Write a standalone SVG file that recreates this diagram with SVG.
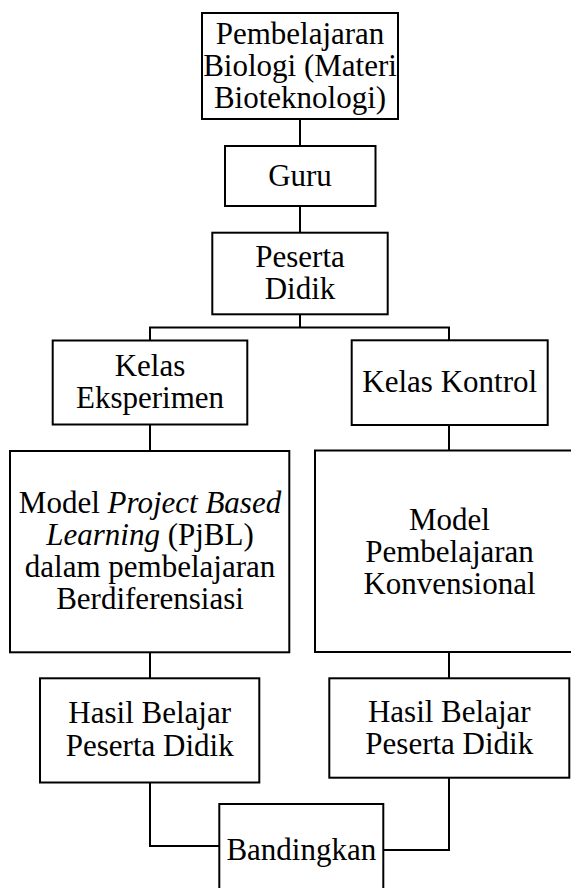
<svg xmlns="http://www.w3.org/2000/svg" width="571" height="888" viewBox="0 0 571 888">
<style>
.box{fill:#fff;stroke:#000;stroke-width:2}
.ln{fill:none;stroke:#000;stroke-width:2}
text{font-family:"Liberation Serif","Times New Roman",serif;font-size:31px;fill:#000;text-anchor:middle}
.it{font-style:italic}
</style>
<rect width="571" height="888" fill="#fff"/>
<g id="connectors">
<path class="ln" d="M300,119V146"/>
<path class="ln" d="M300,206V232.5"/>
<path class="ln" d="M300,314.5V327.5M150,340.5V327.5H449V340.5"/>
<path class="ln" d="M150,424.5V451"/>
<path class="ln" d="M449,425V450.5"/>
<path class="ln" d="M150,652V678.5"/>
<path class="ln" d="M449,652V678.5"/>
<path class="ln" d="M150,782.5V846H219.5"/>
<path class="ln" d="M449,778V850H383.5"/>
</g>
<g id="n-pembelajaran">
<rect class="box" x="202" y="13" width="196" height="106"/>
<text x="300" y="43.5">Pembelajaran</text>
<text x="300" y="75.5">Biologi (Materi</text>
<text x="300" y="107.5">Bioteknologi)</text>
</g>
<g id="n-guru">
<rect class="box" x="225" y="146" width="150.5" height="60"/>
<text x="300" y="186">Guru</text>
</g>
<g id="n-peserta">
<rect class="box" x="212.3" y="232.7" width="175.4" height="81.6"/>
<text x="300" y="267">Peserta</text>
<text x="300" y="299">Didik</text>
</g>
<g id="n-eksperimen">
<rect class="box" x="52.7" y="340.5" width="194.6" height="84"/>
<text x="150" y="376">Kelas</text>
<text x="150" y="408">Eksperimen</text>
</g>
<g id="n-kontrol">
<rect class="box" x="351.7" y="340.3" width="196" height="84.7"/>
<text x="449.7" y="392">Kelas Kontrol</text>
</g>
<g id="n-pjbl">
<rect class="box" x="10" y="451" width="279.3" height="201.3"/>
<text x="150" y="513">Model <tspan class="it">Project Based</tspan></text>
<text x="150" y="545"><tspan class="it">Learning</tspan> (PjBL)</text>
<text x="150" y="577">dalam pembelajaran</text>
<text x="150" y="609">Berdiferensiasi</text>
</g>
<g id="n-konvensional">
<rect class="box" x="315" y="450.5" width="270" height="201.5"/>
<text x="449.5" y="529.5">Model</text>
<text x="449.5" y="562">Pembelajaran</text>
<text x="449.5" y="594">Konvensional</text>
</g>
<g id="n-hasil-eksperimen">
<rect class="box" x="40" y="678.3" width="219.3" height="104.2"/>
<text x="149.7" y="723">Hasil Belajar</text>
<text x="149.7" y="755.5">Peserta Didik</text>
</g>
<g id="n-hasil-kontrol">
<rect class="box" x="329.3" y="678.3" width="240" height="99.4"/>
<text x="449.3" y="722.3">Hasil Belajar</text>
<text x="449.3" y="754.3">Peserta Didik</text>
</g>
<g id="n-bandingkan">
<rect class="box" x="219.3" y="804" width="164" height="100"/>
<text x="301.3" y="859.5">Bandingkan</text>
</g>
</svg>
